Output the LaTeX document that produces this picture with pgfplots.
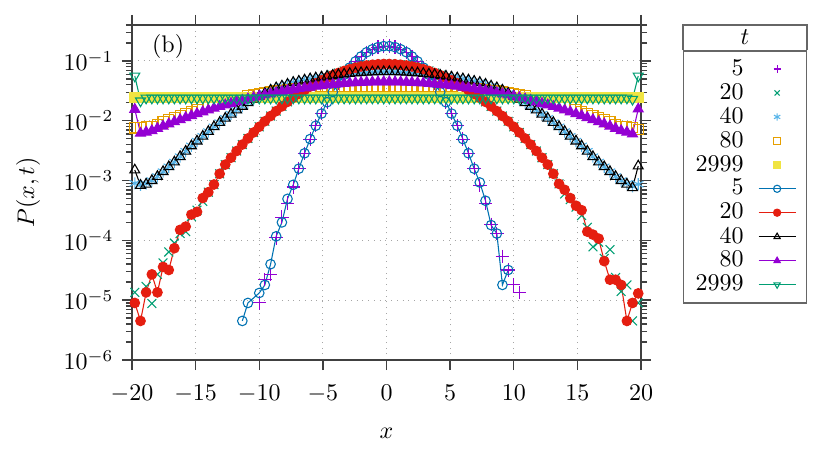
\documentclass[border=0pt]{standalone}
\usepackage{pgfplots}
\usepackage{pgfplotstable}
\pgfplotsset{compat=1.18}
\definecolor{c1}{HTML}{9400D3}
\definecolor{c2}{HTML}{009E73}
\definecolor{c3}{HTML}{56B4E9}
\definecolor{c4}{HTML}{E69F00}
\definecolor{c5}{HTML}{F0E442}
\definecolor{c6}{HTML}{0072B2}
\definecolor{c7}{HTML}{E51E10}
\pgfplotstableread{
x p5 p20 p40 p80 p2999 l5 l20 l40 l80 l2999
-19.78 nan 1.35e-5 9.0e-4 7.59e-3 2.45e-2 nan 9.0e-6 1.5e-3 1.55e-2 5.6e-2
-19.33 nan nan 8.5e-4 7.76e-3 2.45e-2 nan 4.5e-6 8.3e-4 6.2e-3 2.15e-2
-18.89 nan 1.7e-5 8.9e-4 7.94e-3 2.45e-2 nan 1.35e-5 8.7e-4 6.46e-3 2.4e-2
-18.44 nan 8.8e-6 1.0e-3 8.0e-3 2.45e-2 nan 2.7e-5 1.0e-3 6.82e-3 2.4e-2
-18.00 nan 2.7e-5 1.17e-3 8.75e-3 2.45e-2 nan 1.35e-5 1.17e-3 7.45e-3 2.4e-2
-17.56 nan 4.2e-5 1.41e-3 9.54e-3 2.45e-2 nan 3.6e-5 1.41e-3 8.13e-3 2.4e-2
-17.11 nan 6.4e-5 1.70e-3 1.04e-2 2.45e-2 nan 3.2e-5 1.70e-3 8.85e-3 2.4e-2
-16.67 nan 9.0e-5 2.04e-3 1.13e-2 2.45e-2 nan 7.4e-5 2.04e-3 9.62e-3 2.4e-2
-16.22 nan 1.3e-4 2.51e-3 1.22e-2 2.45e-2 nan 1.5e-4 2.51e-3 1.04e-2 2.4e-2
-15.78 nan 1.4e-4 3.09e-3 1.32e-2 2.45e-2 nan 1.7e-4 3.09e-3 1.13e-2 2.4e-2
-15.33 nan 2.5e-4 3.80e-3 1.42e-2 2.45e-2 nan 2.7e-4 3.80e-3 1.22e-2 2.4e-2
-14.89 nan 3.2e-4 4.57e-3 1.53e-2 2.45e-2 nan 3.0e-4 4.57e-3 1.31e-2 2.4e-2
-14.44 nan 4.5e-4 5.50e-3 1.64e-2 2.45e-2 nan 5.1e-4 5.50e-3 1.41e-2 2.4e-2
-14.00 nan 6.4e-4 6.61e-3 1.75e-2 2.45e-2 nan 6.4e-4 6.61e-3 1.51e-2 2.4e-2
-13.56 nan 8.6e-4 7.94e-3 1.87e-2 2.45e-2 nan 8.6e-4 7.94e-3 1.62e-2 2.4e-2
-13.11 nan 1.3e-3 9.33e-3 1.99e-2 2.45e-2 nan 1.3e-3 9.33e-3 1.73e-2 2.4e-2
-12.67 nan 1.85e-3 1.10e-2 2.11e-2 2.45e-2 nan 1.85e-3 1.10e-2 1.84e-2 2.4e-2
-12.22 nan 2.41e-3 1.29e-2 2.24e-2 2.45e-2 nan 2.41e-3 1.29e-2 1.95e-2 2.4e-2
-11.78 nan 3.12e-3 1.51e-2 2.36e-2 2.45e-2 nan 3.12e-3 1.51e-2 2.07e-2 2.4e-2
-11.33 nan 4.00e-3 1.74e-2 2.48e-2 2.45e-2 4.5e-6 4.00e-3 1.74e-2 2.20e-2 2.4e-2
-10.89 nan 5.07e-3 2.00e-2 2.60e-2 2.45e-2 9.0e-6 5.07e-3 2.00e-2 2.32e-2 2.4e-2
-10.44 nan 6.38e-3 2.29e-2 2.73e-2 2.45e-2 nan 6.38e-3 2.29e-2 2.45e-2 2.4e-2
-10.00 9.0e-6 7.94e-3 2.57e-2 2.84e-2 2.45e-2 1.32e-5 7.94e-3 2.57e-2 2.57e-2 2.4e-2
-9.56 2.2e-5 9.80e-3 2.88e-2 2.95e-2 2.45e-2 1.8e-5 9.80e-3 2.88e-2 2.70e-2 2.4e-2
-9.11 2.7e-5 1.20e-2 3.24e-2 3.06e-2 2.45e-2 4.0e-5 1.20e-2 3.24e-2 2.82e-2 2.4e-2
-8.67 1.1e-4 1.45e-2 3.55e-2 3.16e-2 2.45e-2 1.17e-4 1.45e-2 3.55e-2 2.95e-2 2.4e-2
-8.22 2.45e-4 1.74e-2 3.80e-2 3.25e-2 2.45e-2 2.0e-4 1.74e-2 3.80e-2 3.08e-2 2.4e-2
-7.78 4.2e-4 2.07e-2 4.07e-2 3.34e-2 2.45e-2 4.95e-4 2.07e-2 4.07e-2 3.20e-2 2.4e-2
-7.33 7.8e-4 2.43e-2 4.37e-2 3.42e-2 2.45e-2 8.5e-4 2.43e-2 4.37e-2 3.32e-2 2.4e-2
-6.89 1.58e-3 2.83e-2 4.57e-2 3.49e-2 2.45e-2 1.58e-3 2.83e-2 4.57e-2 3.44e-2 2.4e-2
-6.44 2.86e-3 3.27e-2 4.79e-2 3.55e-2 2.45e-2 2.86e-3 3.27e-2 4.79e-2 3.55e-2 2.4e-2
-6.00 4.95e-3 3.73e-2 5.01e-2 3.60e-2 2.45e-2 4.95e-3 3.73e-2 5.01e-2 3.66e-2 2.4e-2
-5.56 8.26e-3 4.23e-2 5.19e-2 3.65e-2 2.45e-2 8.26e-3 4.23e-2 5.19e-2 3.77e-2 2.4e-2
-5.11 1.32e-2 4.74e-2 5.37e-2 3.69e-2 2.45e-2 1.32e-2 4.74e-2 5.37e-2 3.87e-2 2.4e-2
-4.67 2.04e-2 5.26e-2 5.56e-2 3.72e-2 2.45e-2 2.04e-2 5.26e-2 5.56e-2 3.96e-2 2.4e-2
-4.22 3.02e-2 5.79e-2 5.75e-2 3.74e-2 2.45e-2 3.02e-2 5.79e-2 5.75e-2 4.05e-2 2.4e-2
-3.78 4.30e-2 6.31e-2 5.89e-2 3.76e-2 2.45e-2 4.30e-2 6.31e-2 5.89e-2 4.13e-2 2.4e-2
-3.33 5.89e-2 6.81e-2 6.03e-2 3.78e-2 2.45e-2 5.89e-2 6.81e-2 6.03e-2 4.20e-2 2.4e-2
-2.89 7.75e-2 7.28e-2 6.17e-2 3.78e-2 2.45e-2 7.75e-2 7.28e-2 6.17e-2 4.27e-2 2.4e-2
-2.44 9.82e-2 7.71e-2 6.31e-2 3.79e-2 2.45e-2 9.82e-2 7.71e-2 6.31e-2 4.32e-2 2.4e-2
-2.00 0.119 8.09e-2 6.38e-2 3.80e-2 2.45e-2 0.119 8.09e-2 6.38e-2 4.37e-2 2.4e-2
-1.56 0.140 8.41e-2 6.46e-2 3.80e-2 2.45e-2 0.140 8.41e-2 6.46e-2 4.41e-2 2.4e-2
-1.11 0.157 8.65e-2 6.53e-2 3.80e-2 2.45e-2 0.157 8.65e-2 6.53e-2 4.44e-2 2.4e-2
-0.67 0.170 8.81e-2 6.61e-2 3.80e-2 2.45e-2 0.170 8.81e-2 6.61e-2 4.46e-2 2.4e-2
-0.22 0.177 8.90e-2 6.61e-2 3.80e-2 2.45e-2 0.177 8.90e-2 6.61e-2 4.47e-2 2.4e-2
0.22 0.177 8.90e-2 6.61e-2 3.80e-2 2.45e-2 0.177 8.90e-2 6.61e-2 4.47e-2 2.4e-2
0.67 0.170 8.81e-2 6.61e-2 3.80e-2 2.45e-2 0.170 8.81e-2 6.61e-2 4.46e-2 2.4e-2
1.11 0.157 8.65e-2 6.53e-2 3.80e-2 2.45e-2 0.157 8.65e-2 6.53e-2 4.44e-2 2.4e-2
1.56 0.140 8.41e-2 6.46e-2 3.80e-2 2.45e-2 0.140 8.41e-2 6.46e-2 4.41e-2 2.4e-2
2.00 0.119 8.09e-2 6.38e-2 3.80e-2 2.45e-2 0.119 8.09e-2 6.38e-2 4.37e-2 2.4e-2
2.44 9.82e-2 7.71e-2 6.31e-2 3.79e-2 2.45e-2 9.82e-2 7.71e-2 6.31e-2 4.32e-2 2.4e-2
2.89 7.75e-2 7.28e-2 6.17e-2 3.78e-2 2.45e-2 7.75e-2 7.28e-2 6.17e-2 4.27e-2 2.4e-2
3.33 5.89e-2 6.81e-2 6.03e-2 3.78e-2 2.45e-2 5.89e-2 6.81e-2 6.03e-2 4.20e-2 2.4e-2
3.78 4.30e-2 6.31e-2 5.89e-2 3.76e-2 2.45e-2 4.30e-2 6.31e-2 5.89e-2 4.13e-2 2.4e-2
4.22 3.02e-2 5.79e-2 5.75e-2 3.74e-2 2.45e-2 3.02e-2 5.79e-2 5.75e-2 4.05e-2 2.4e-2
4.67 2.04e-2 5.26e-2 5.56e-2 3.72e-2 2.45e-2 2.04e-2 5.26e-2 5.56e-2 3.96e-2 2.4e-2
5.11 1.32e-2 4.74e-2 5.37e-2 3.69e-2 2.45e-2 1.32e-2 4.74e-2 5.37e-2 3.87e-2 2.4e-2
5.56 8.26e-3 4.23e-2 5.19e-2 3.65e-2 2.45e-2 8.26e-3 4.23e-2 5.19e-2 3.77e-2 2.4e-2
6.00 4.95e-3 3.73e-2 5.01e-2 3.60e-2 2.45e-2 4.95e-3 3.73e-2 5.01e-2 3.66e-2 2.4e-2
6.44 2.86e-3 3.27e-2 4.79e-2 3.55e-2 2.45e-2 2.86e-3 3.27e-2 4.79e-2 3.55e-2 2.4e-2
6.89 1.58e-3 2.83e-2 4.57e-2 3.49e-2 2.45e-2 1.58e-3 2.83e-2 4.57e-2 3.44e-2 2.4e-2
7.33 8.3e-4 2.43e-2 4.37e-2 3.42e-2 2.45e-2 9.3e-4 2.43e-2 4.37e-2 3.32e-2 2.4e-2
7.78 4.2e-4 2.07e-2 4.07e-2 3.34e-2 2.45e-2 4.6e-4 2.07e-2 4.07e-2 3.20e-2 2.4e-2
8.22 1.85e-4 1.74e-2 3.80e-2 3.25e-2 2.45e-2 1.8e-4 1.74e-2 3.80e-2 3.08e-2 2.4e-2
8.67 1.3e-4 1.45e-2 3.55e-2 3.16e-2 2.45e-2 1.3e-4 1.45e-2 3.55e-2 2.95e-2 2.4e-2
9.11 5.4e-5 1.20e-2 3.24e-2 3.06e-2 2.45e-2 1.8e-5 1.20e-2 3.24e-2 2.82e-2 2.4e-2
9.56 3.2e-5 9.80e-3 2.88e-2 2.95e-2 2.45e-2 3.2e-5 9.80e-3 2.88e-2 2.70e-2 2.4e-2
10.00 1.8e-5 7.94e-3 2.57e-2 2.84e-2 2.45e-2 nan 7.94e-3 2.57e-2 2.57e-2 2.4e-2
10.44 1.35e-5 6.38e-3 2.29e-2 2.73e-2 2.45e-2 nan 6.38e-3 2.29e-2 2.45e-2 2.4e-2
10.89 nan 5.07e-3 2.00e-2 2.60e-2 2.45e-2 nan 5.07e-3 2.00e-2 2.32e-2 2.4e-2
11.33 nan 4.00e-3 1.74e-2 2.48e-2 2.45e-2 nan 4.00e-3 1.74e-2 2.20e-2 2.4e-2
11.78 nan 3.12e-3 1.51e-2 2.36e-2 2.45e-2 nan 3.12e-3 1.51e-2 2.07e-2 2.4e-2
12.22 nan 2.41e-3 1.29e-2 2.24e-2 2.45e-2 nan 2.41e-3 1.29e-2 1.95e-2 2.4e-2
12.67 nan 1.85e-3 1.10e-2 2.11e-2 2.45e-2 nan 1.85e-3 1.10e-2 1.84e-2 2.4e-2
13.11 nan 1.3e-3 9.33e-3 1.99e-2 2.45e-2 nan 1.3e-3 9.33e-3 1.73e-2 2.4e-2
13.56 nan 8.8e-4 7.94e-3 1.87e-2 2.45e-2 nan 8.8e-4 7.94e-3 1.62e-2 2.4e-2
14.00 nan 6.0e-4 6.61e-3 1.75e-2 2.45e-2 nan 7.0e-4 6.61e-3 1.51e-2 2.4e-2
14.44 nan 4.8e-4 5.50e-3 1.64e-2 2.45e-2 nan 5.1e-4 5.50e-3 1.41e-2 2.4e-2
14.89 nan 3.6e-4 4.57e-3 1.53e-2 2.45e-2 nan 3.8e-4 4.57e-3 1.31e-2 2.4e-2
15.33 nan 2.6e-4 3.80e-3 1.42e-2 2.45e-2 nan 3.2e-4 3.80e-3 1.22e-2 2.4e-2
15.78 nan 1.65e-4 3.09e-3 1.32e-2 2.45e-2 nan 1.4e-4 3.09e-3 1.13e-2 2.4e-2
16.22 nan 7.8e-5 2.51e-3 1.22e-2 2.45e-2 nan 1.25e-4 2.51e-3 1.04e-2 2.4e-2
16.67 nan 9.3e-5 2.04e-3 1.13e-2 2.45e-2 nan 1.07e-4 2.04e-3 9.62e-3 2.4e-2
17.11 nan 5.0e-5 1.70e-3 1.04e-2 2.45e-2 nan 4.5e-5 1.70e-3 8.85e-3 2.4e-2
17.56 nan 7.0e-5 1.41e-3 9.54e-3 2.45e-2 nan 2.2e-5 1.41e-3 8.13e-3 2.4e-2
18.00 nan 2.4e-5 1.17e-3 8.75e-3 2.45e-2 nan 2.2e-5 1.17e-3 7.45e-3 2.4e-2
18.44 nan 1.4e-5 1.0e-3 8.0e-3 2.45e-2 nan 1.8e-5 1.0e-3 6.82e-3 2.4e-2
18.89 nan 1.8e-5 8.9e-4 7.94e-3 2.45e-2 nan 4.5e-6 8.7e-4 6.46e-3 2.4e-2
19.33 nan 4.5e-6 8.0e-4 7.76e-3 2.45e-2 nan 9.0e-6 7.6e-4 6.0e-3 2.29e-2
19.78 nan 9.0e-6 8.7e-4 7.2e-3 2.45e-2 nan 1.3e-5 1.75e-3 1.57e-2 5.6e-2
}\datatable

\begin{document}
\begin{tikzpicture}
\path[use as bounding box] (-55pt,-37.5pt) rectangle (288.75pt,150pt);
\begin{axis}[
  scale only axis, width=212.1pt, height=139.6pt,
  at={(0,0)}, anchor=south west,
  xmin=-20, xmax=20, ymode=log, ymin=1e-6, ymax=0.4,
  xtick={-20,-15,...,20},
  tick align=outside,
  major tick length=4.2pt, minor tick length=2.5pt,
  grid=major, grid style={dotted, black!35, line width=0.4pt},
  axis line style={black!75, line width=0.8pt},
  every tick/.style={black!75, line width=0.6pt},
  xticklabel style={yshift=-2.5pt},
  xlabel={$x$}, ylabel={$P(x,t)$},
  xlabel style={at={(axis description cs:0.5,-0.218)}, anchor=center},
  ylabel style={at={(axis description cs:-0.204,0.5)}, anchor=center},
  legend cell align=right, legend plot pos=right,
  legend image code/.code={\draw[mark repeat=2,mark phase=2,#1] plot coordinates {(0cm,0cm) (0.27cm,0cm) (0.54cm,0cm)}; \path (0.62cm,0cm);},
  legend image post style={mark size=1.5pt, line width=0.45pt},
  legend style={at={(axis description cs:1.0825,0.925)}, anchor=north west,
    draw=black!60, line width=0.6pt, name=leg, inner xsep=2pt, inner ysep=1.5pt,
    row sep=-2.2pt,
    nodes={inner ysep=2pt, inner xsep=3pt},
    /tikz/every odd column/.append style={column sep=3pt}},
  every axis plot/.append style={line width=0.45pt},
]
\addplot[only marks, mark=+, color=c1, mark size=2.8pt] table[x=x, y=p5] {\datatable};
\addlegendentry{5}
\addplot[only marks, mark=x, color=c2, mark size=2.6pt] table[x=x, y=p20] {\datatable};
\addlegendentry{20}
\addplot[only marks, mark=asterisk, color=c3, mark size=2.5pt] table[x=x, y=p40] {\datatable};
\addlegendentry{40}
\addplot[only marks, mark=square, color=c4, mark size=2.1pt] table[x=x, y=p80] {\datatable};
\addlegendentry{80}
\addplot[only marks, mark=square*, color=c5, mark size=2.1pt] table[x=x, y=p2999] {\datatable};
\addlegendentry{2999}
\addplot[color=c6, mark=o, mark size=2pt] table[x=x, y=l5] {\datatable};
\addlegendentry{5}
\addplot[color=c7, mark=*, mark size=2pt] table[x=x, y=l20] {\datatable};
\addlegendentry{20}
\addplot[color=black, mark=triangle, mark size=2.4pt] table[x=x, y=l40] {\datatable};
\addlegendentry{40}
\addplot[color=c1, mark=triangle*, mark size=2.4pt] table[x=x, y=l80] {\datatable};
\addlegendentry{80}
\addplot[color=c2, mark=triangle, mark size=2.4pt, mark options={rotate=180}] table[x=x, y=l2999] {\datatable};
\addlegendentry{2999}
\node at (axis description cs:0.071,0.937) {(b)};
\end{axis}
\draw[black!60, line width=0.6pt] (leg.north west) -- ++(0,10.4pt) -| (leg.north east);
\node at ([yshift=5.2pt]leg.north) {$t$};
\end{tikzpicture}
\end{document}
